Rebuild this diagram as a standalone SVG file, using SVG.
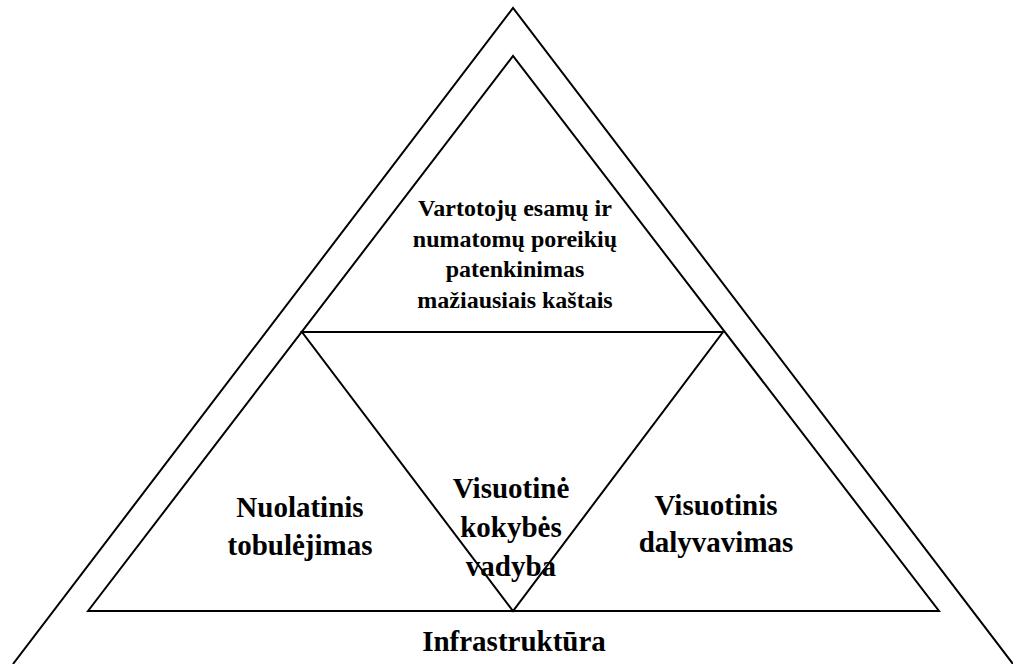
<svg xmlns="http://www.w3.org/2000/svg" width="1013" height="664" viewBox="0 0 1013 664">
  <style>
    .ln { fill: none; stroke: #000; stroke-width: 2; stroke-linejoin: miter; }
    .t { font-family: "Liberation Serif", "Times New Roman", serif; font-weight: bold; fill: #000; text-anchor: middle; }
    .s { font-size: 24px; }
    .l { font-size: 29px; }
  </style>
  <rect width="1013" height="664" fill="#fff"/>

  <!-- triangle outlines -->
  <g id="connectors">
    <polyline class="ln" points="13,664 513,8 1013,664"/>
    <polygon class="ln" points="88,611 513,56 939,611"/>
    <polygon class="ln" points="302,332 723,332 513,611"/>
  </g>

  <g id="goal">
    <text class="t s" x="515" y="216">Vartotojų esamų ir</text>
    <text class="t s" x="515" y="247">numatomų poreikių</text>
    <text class="t s" x="515" y="277">patenkinimas</text>
    <text class="t s" x="515" y="308">mažiausiais kaštais</text>
  </g>

  <g id="improvement">
    <text class="t l" x="300" y="517">Nuolatinis</text>
    <text class="t l" x="300" y="555">tobulėjimas</text>
  </g>

  <g id="tqm">
    <text class="t l" x="511" y="498">Visuotinė</text>
    <text class="t l" x="511" y="537">kokybės</text>
    <text class="t l" x="511" y="576">vadyba</text>
  </g>

  <g id="participation">
    <text class="t l" x="716" y="515">Visuotinis</text>
    <text class="t l" x="716" y="552">dalyvavimas</text>
  </g>

  <g id="infrastructure">
    <text class="t l" x="514" y="651">Infrastruktūra</text>
  </g>
</svg>
